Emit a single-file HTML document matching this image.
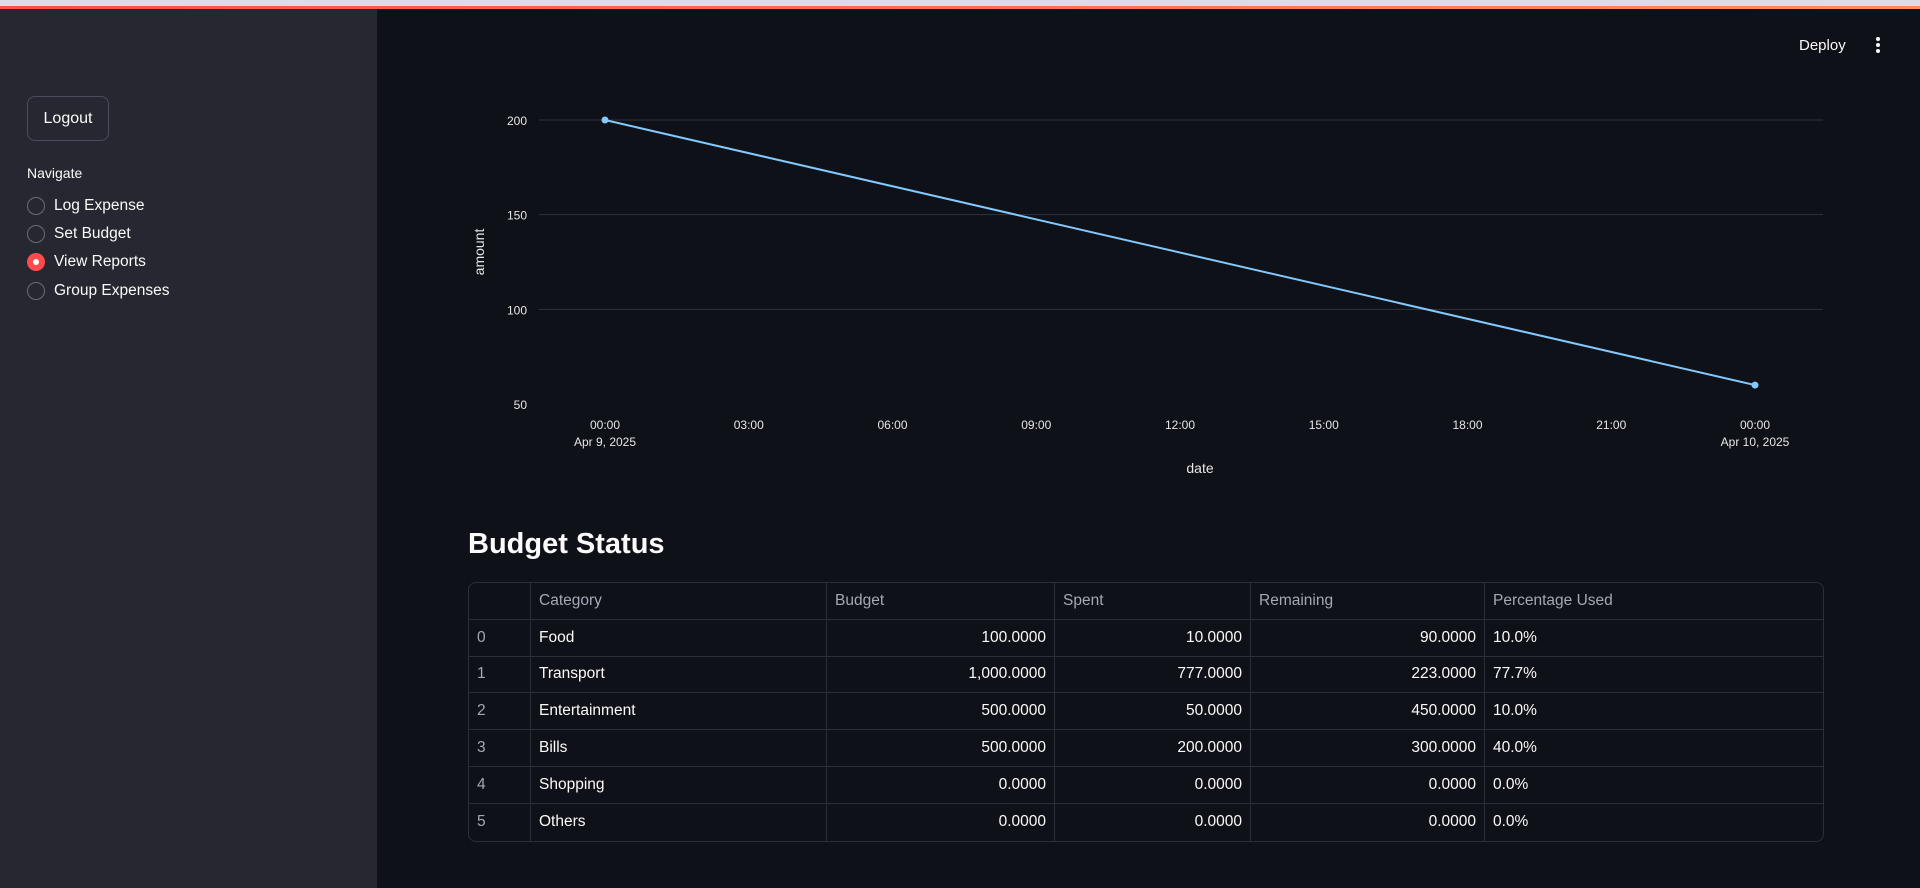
<!DOCTYPE html>
<html><head><meta charset="utf-8">
<style>
*{box-sizing:border-box;margin:0;padding:0}
body{width:1920px;height:888px;background:#0e1117;font-family:"Liberation Sans",sans-serif;color:#fafafa;position:relative;overflow:hidden}
#topbar{position:absolute;left:0;top:0;width:1920px;height:6px;background:#dcdde2}
#topline{position:absolute;left:0;top:6px;width:1920px;height:3px;background:linear-gradient(90deg,#ff4b4b,#ff8c5a)}
#sidebar{position:absolute;left:0;top:9px;width:377px;height:879px;background:#262730}
.logout{position:absolute;left:27px;top:96px;width:82px;height:45px;border:1px solid #4a4c57;border-radius:8px;background:#262730;color:#fafafa;font-size:16px;display:flex;align-items:center;justify-content:center}
.navlabel{position:absolute;left:27px;top:165px;font-size:14px}
.radio{position:absolute;left:27px;height:24px;display:flex;align-items:center;font-size:15.5px}
.radio .c{width:18px;height:18px;border-radius:50%;border:1px solid #6b6d76;margin-right:9px;position:relative}
.radio.on .c{background:#ff4b4b;border-color:#ff4b4b}
.radio.on .c::after{content:"";position:absolute;left:5px;top:5px;width:6px;height:6px;border-radius:50%;background:#fff}
#deploy{position:absolute;left:1799px;top:37px;font-size:15px}
#kebab{position:absolute;left:1872px;top:37px;width:12px;height:20px}
#kebab i{display:block;width:4px;height:4px;border-radius:50%;background:#fafafa;margin:0 auto 2px}
h2{position:absolute;left:468px;top:528px;font-size:29px;font-weight:bold}
table{position:absolute;left:468px;top:582px;width:1356px;border-collapse:separate;border-spacing:0;border:1px solid #2b2e36;border-radius:8px;font-size:15.5px}
td,th{height:36.8px;border-right:1px solid #2b2e36;border-bottom:1px solid #2b2e36;padding:0 8px;font-weight:normal;text-align:left;white-space:nowrap}
tr:last-child td{border-bottom:none}
td:last-child,th:last-child{border-right:none}
th{color:#a3a8b4}
td.i{color:#a3a8b4}
td.n{text-align:right}
</style></head><body>
<div id="topbar"></div>
<div id="topline"></div>
<div id="sidebar"></div>
<div class="logout">Logout</div>
<div class="navlabel">Navigate</div>
<div class="radio" style="top:194px"><span class="c"></span>Log Expense</div>
<div class="radio" style="top:222px"><span class="c"></span>Set Budget</div>
<div class="radio on" style="top:250px"><span class="c"></span>View Reports</div>
<div class="radio" style="top:279px"><span class="c"></span>Group Expenses</div>
<div id="deploy">Deploy</div>
<div id="kebab"><i></i><i></i><i></i></div>

<svg id="chart" width="1920" height="500" style="position:absolute;left:0;top:0" font-family="Liberation Sans, sans-serif"></svg>

<h2>Budget Status</h2>
<table>
<colgroup><col style="width:62px"><col style="width:296px"><col style="width:228px"><col style="width:196px"><col style="width:234px"><col></colgroup>
<tr><th></th><th>Category</th><th>Budget</th><th>Spent</th><th>Remaining</th><th>Percentage Used</th></tr>
<tr><td class="i">0</td><td>Food</td><td class="n">100.0000</td><td class="n">10.0000</td><td class="n">90.0000</td><td>10.0%</td></tr>
<tr><td class="i">1</td><td>Transport</td><td class="n">1,000.0000</td><td class="n">777.0000</td><td class="n">223.0000</td><td>77.7%</td></tr>
<tr><td class="i">2</td><td>Entertainment</td><td class="n">500.0000</td><td class="n">50.0000</td><td class="n">450.0000</td><td>10.0%</td></tr>
<tr><td class="i">3</td><td>Bills</td><td class="n">500.0000</td><td class="n">200.0000</td><td class="n">300.0000</td><td>40.0%</td></tr>
<tr><td class="i">4</td><td>Shopping</td><td class="n">0.0000</td><td class="n">0.0000</td><td class="n">0.0000</td><td>0.0%</td></tr>
<tr><td class="i">5</td><td>Others</td><td class="n">0.0000</td><td class="n">0.0000</td><td class="n">0.0000</td><td>0.0%</td></tr>
</table>

<script>
const hours = [0, 24];
const amounts = [200, 60];
const yTicks = [50, 100, 150, 200];
const xTickHours = [0, 3, 6, 9, 12, 15, 18, 21, 24];
const xTickLabels = ["00:00","03:00","06:00","09:00","12:00","15:00","18:00","21:00","00:00"];
const xTickSub = ["Apr 9, 2025","","","","","","","","Apr 10, 2025"];

const NS = "http://www.w3.org/2000/svg";
const svg = document.getElementById("chart");
const X0 = 605, X1 = 1755, Y200 = 120, Y50 = 404;
function xs(h){ return X0 + (h - 0) / 24 * (X1 - X0); }
function ys(v){ return Y50 - (v - 50) / 150 * (Y50 - Y200); }
function mk(tag, attrs, txt){
  const e = document.createElementNS(NS, tag);
  for (const k in attrs) e.setAttribute(k, attrs[k]);
  if (txt !== undefined) e.textContent = txt;
  svg.appendChild(e);
  return e;
}
yTicks.forEach(v => {
  if (v > 50) {
    const g = mk("line", {x1:539, x2:1823, y1:ys(v), y2:ys(v), stroke:"#31333b", "stroke-width":1});
    
    
  }
  const t = mk("text", {x:527, y:ys(v)+5, "text-anchor":"end", fill:"#e6e6e6", "font-size":12}, String(v));
  
  
});
xTickHours.forEach((h, i) => {
  const t = mk("text", {x:xs(h), y:429, "text-anchor":"middle", fill:"#e6e6e6", "font-size":12}, xTickLabels[i]);
  
  
  if (xTickSub[i]) {
    const s = mk("text", {x:xs(h), y:446, "text-anchor":"middle", fill:"#e6e6e6", "font-size":12}, xTickSub[i]);
    
    
  }
});
const xt = mk("text", {x:1200, y:473, "text-anchor":"middle", fill:"#e6e6e6", "font-size":14}, "date");


const yt = mk("text", {x:0, y:0, "text-anchor":"middle", fill:"#e6e6e6", "font-size":14, transform:"translate(484,252) rotate(-90)"}, "amount");


const pts = hours.map((h, i) => xs(h) + "," + ys(amounts[i])).join(" ");
const line = mk("polyline", {points:pts, fill:"none", stroke:"#83c9ff", "stroke-width":2});


hours.forEach((h, i) => {
  const c = mk("circle", {cx:xs(h), cy:ys(amounts[i]), r:3.5, fill:"#83c9ff"});
  
  
});
</script>
</body></html>
